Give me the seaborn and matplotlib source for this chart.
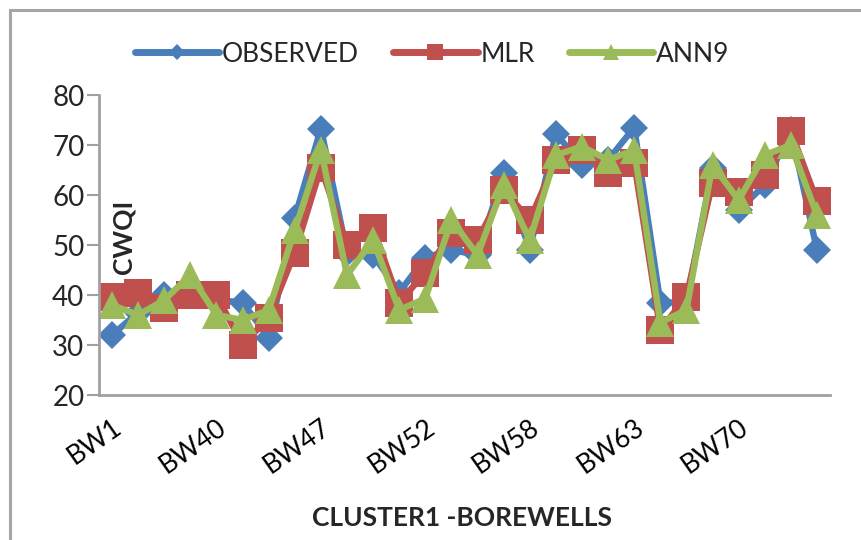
import numpy as np
import pandas as pd
import seaborn as sns
import matplotlib
matplotlib.use("Agg")
import matplotlib.pyplot as plt
from matplotlib.lines import Line2D
from matplotlib.patches import Rectangle

# ---- data ----
observed = [32, 36.5, 40, 40, 39, 38.5, 31.5, 55.5, 73.3, 48.5, 48, 40.5, 47.5, 49,
            48, 64.5, 49, 72.3, 66, 67, 73.5, 38.5, 38.5, 65.5, 57, 62, 73, 49]
mlr = [39.6, 40.5, 37.5, 40, 40, 30, 35.5, 48.5, 65.5, 50, 53.5, 38.5, 44.5, 52.5,
       51, 61, 55, 67, 69, 64.5, 66.5, 33, 39.7, 62.5, 60.7, 64, 72.8, 58.8]
ann9 = [38, 36, 39, 44, 36, 35, 37, 53, 69, 44, 51, 37, 39.3, 55,
        48, 62, 51, 68, 69.7, 67, 69, 34.5, 37, 66, 59, 68, 70, 56]
tick_labels = ["BW1", "BW40", "BW47", "BW52", "BW58", "BW63", "BW70"]
label_step = 4
series_names = ["OBSERVED", "MLR", "ANN9"]
y_ticks = [20, 30, 40, 50, 60, 70, 80]

colors = {"OBSERVED": "#4A7EBB", "MLR": "#C0504D", "ANN9": "#9BBB59"}
markers = {"OBSERVED": "D", "MLR": "s", "ANN9": "^"}
msizes = {"OBSERVED": 14.5, "MLR": 19.5, "ANN9": 20}

n = len(observed)
idx = np.arange(n)
df = pd.DataFrame({"idx": np.tile(idx, 3),
                   "value": observed + mlr + ann9,
                   "series": np.repeat(series_names, n)})

sns.set_theme(style="white")
plt.rcParams["font.family"] = ["Lato", "DejaVu Sans"]

W, H = 862, 540
fig = plt.figure(figsize=(W / 100, H / 100), dpi=100)
ax = fig.add_axes([99 / W, 1 - 395 / H, (830 - 99) / W, 300 / H])

for name in series_names:
    sub = df[df["series"] == name]
    sns.lineplot(data=sub, x="idx", y="value", ax=ax, color=colors[name],
                 marker=markers[name], markersize=msizes[name],
                 markeredgewidth=0, linewidth=4.6, legend=False,
                 solid_joinstyle="round", solid_capstyle="round")

ax.set_xlim(-0.5, n - 0.5)
ax.set_ylim(20, 80)
ax.set_yticks(y_ticks)
ax.set_xticks(idx[::label_step][:len(tick_labels)])
ax.set_xticklabels(tick_labels, rotation=35, ha="right", rotation_mode="anchor")
ax.set_xticks(np.arange(-0.5, n, 1.0), minor=True)
ax.tick_params(axis="x", which="major", length=0, labelsize=19, pad=14, colors="black")
ax.tick_params(axis="x", which="minor", length=8, width=1.5, color="#A0A0A0", direction="out")
ax.tick_params(axis="y", length=9, width=1.5, color="#A0A0A0", direction="out",
               labelsize=20, pad=1.5, left=True)
ax.set_ylabel("")
ax.set_xlabel("CLUSTER1 -BOREWELLS", fontsize=19, fontweight="bold")
ax.xaxis.set_label_coords((462 - 99) / 731, (395 - 518) / 300)
ax.xaxis.label.set_va("center")

for s in ["top", "right"]:
    ax.spines[s].set_visible(False)
for s in ["left", "bottom"]:
    ax.spines[s].set_color("#A0A0A0")
    ax.spines[s].set_linewidth(2)
ax.grid(False)

fig.text(124 / W, 1 - 237 / H, "CWQI", rotation=90, fontsize=19, fontweight="bold",
         ha="center", va="center")

handles = [Line2D([0], [0], color=colors[nm], lw=5, marker=markers[nm],
                  markersize={"OBSERVED": 8, "MLR": 11, "ANN9": 11}[nm],
                  markeredgewidth=0, solid_capstyle="round") for nm in series_names]
fig.legend(handles, series_names, loc="center", bbox_to_anchor=(432 / W, 1 - 54 / H),
           ncol=3, frameon=False, fontsize=19, handlelength=3.2, handletextpad=0.1,
           columnspacing=1.3)

fig.add_artist(Rectangle((10 / W, -0.2), 1.5, 1.2 - 10 / H, transform=fig.transFigure,
                         fill=False, edgecolor="#A6A6A6", linewidth=2.2, clip_on=False))

fig.savefig("out.png", dpi=100, facecolor="white")
